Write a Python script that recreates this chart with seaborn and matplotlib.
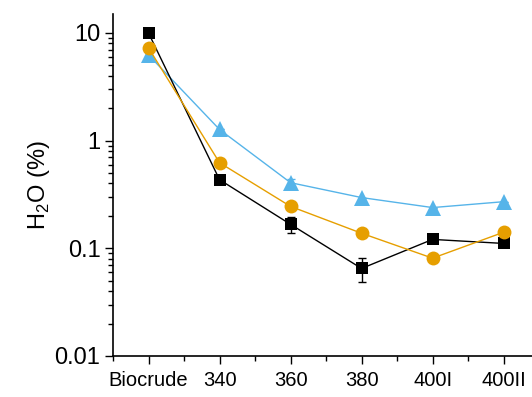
import matplotlib
matplotlib.use("Agg")
import matplotlib.pyplot as plt
import matplotlib.ticker as mticker
import seaborn as sns
import pandas as pd

# Data
categories = ["Biocrude", "340", "360", "380", "400I", "400II"]
black_sq = [10.0, 0.434, 0.167, 0.065, 0.121, 0.111]
black_err = [0, 0, 0.028, 0.016, 0, 0]
orange_ci = [7.26, 0.624, 0.245, 0.138, 0.081, 0.141]
blue_tri = [6.25, 1.27, 0.407, 0.296, 0.239, 0.271]
blue_err = [0, 0, 0.03, 0, 0, 0]

sns.set_style("ticks")
plt.rcParams['font.family'] = ['Liberation Sans', 'DejaVu Sans']
plt.rcParams['text.color'] = 'black'
plt.rcParams['axes.labelcolor'] = 'black'
plt.rcParams['xtick.color'] = 'black'
plt.rcParams['ytick.color'] = 'black'
plt.rcParams['mathtext.fontset'] = 'custom'
plt.rcParams['mathtext.rm'] = 'Liberation Sans'

fig = plt.figure(figsize=(5.32, 3.97), dpi=100)
ax = fig.add_axes([0.2124, 0.1033, 0.7876, 0.8614])

pos = list(range(len(categories)))
df = pd.DataFrame({"pos": pos, "black": black_sq, "orange": orange_ci, "blue": blue_tri})

# blue triangles
ax.errorbar(pos, blue_tri, yerr=blue_err, fmt='none', ecolor='#56B4E9', elinewidth=1, capsize=3)
sns.lineplot(data=df, x="pos", y="blue", ax=ax, color='#56B4E9', lw=1,
             marker='^', markersize=11, markeredgewidth=0)
# black squares
ax.errorbar(pos, black_sq, yerr=black_err, fmt='none', ecolor='black', elinewidth=1, capsize=3)
sns.lineplot(data=df, x="pos", y="black", ax=ax, color='black', lw=1,
             marker='s', markersize=9, markeredgewidth=0)
# orange circles
sns.lineplot(data=df, x="pos", y="orange", ax=ax, color='#E69F00', lw=1,
             marker='o', markersize=10, markeredgewidth=0)

ax.set_yscale('log')
ax.set_ylim(0.01, 15)
ax.set_xlim(-0.5, 5.4)
ax.yaxis.set_major_locator(mticker.FixedLocator([0.01, 0.1, 1, 10]))
ax.yaxis.set_major_formatter(mticker.FixedFormatter(["0.01", "0.1", "1", "10"]))
ax.yaxis.set_minor_locator(mticker.LogLocator(base=10, subs=range(2, 10)))
ax.yaxis.set_minor_formatter(mticker.NullFormatter())

ax.set_xticks(pos)
ax.set_xticklabels(categories)
ax.xaxis.set_minor_locator(mticker.FixedLocator([p - 0.5 for p in pos] + [5.5]))

ax.tick_params(axis='both', which='major', length=6, width=1)
ax.tick_params(axis='both', which='minor', length=3.5, width=1)
ax.tick_params(axis='y', which='major', labelsize=17, pad=3)
ax.tick_params(axis='x', which='major', labelsize=14.5, pad=5)

ax.set_xlabel("")
ax.set_ylabel("H$_2$O (%)", fontsize=17, labelpad=2)

sns.despine(ax=ax)
for s in ['left', 'bottom']:
    ax.spines[s].set_color('black')
    ax.spines[s].set_linewidth(1.2)

fig.savefig("out.png", dpi=100)
